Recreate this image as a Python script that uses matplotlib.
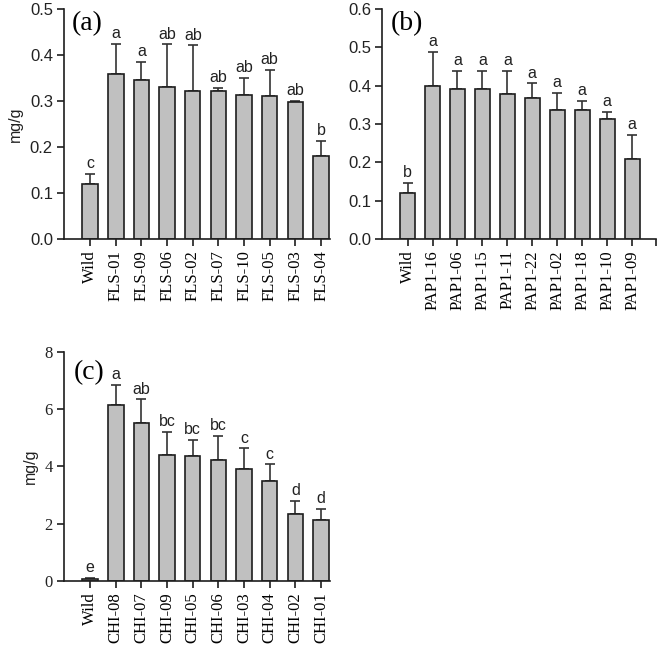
import numpy as np
import matplotlib
matplotlib.use('Agg')
import matplotlib.pyplot as plt

plt.rcParams['font.family'] = 'Liberation Serif'

# panel (a) FLS lines
fls_names = ['Wild', 'FLS-01', 'FLS-09', 'FLS-06', 'FLS-02', 'FLS-07', 'FLS-10', 'FLS-05', 'FLS-03', 'FLS-04']
fls_mean = [0.120, 0.359, 0.346, 0.330, 0.322, 0.321, 0.314, 0.311, 0.298, 0.180]
fls_err = [0.021, 0.066, 0.040, 0.093, 0.099, 0.007, 0.037, 0.056, 0.002, 0.033]
fls_letters = ['c', 'a', 'a', 'ab', 'ab', 'ab', 'ab', 'ab', 'ab', 'b']

# panel (b) PAP1 lines
pap_names = ['Wild', 'PAP1-16', 'PAP1-06', 'PAP1-15', 'PAP1-11', 'PAP1-22', 'PAP1-02', 'PAP1-18', 'PAP1-10', 'PAP1-09']
pap_mean = [0.120, 0.400, 0.392, 0.392, 0.378, 0.368, 0.338, 0.338, 0.314, 0.210]
pap_err = [0.027, 0.088, 0.047, 0.047, 0.061, 0.038, 0.044, 0.022, 0.018, 0.062]
pap_letters = ['b', 'a', 'a', 'a', 'a', 'a', 'a', 'a', 'a', 'a']

# panel (c) CHI lines
chi_names = ['Wild', 'CHI-08', 'CHI-07', 'CHI-09', 'CHI-05', 'CHI-06', 'CHI-03', 'CHI-04', 'CHI-02', 'CHI-01']
chi_mean = [0.08, 6.15, 5.50, 4.41, 4.37, 4.22, 3.90, 3.50, 2.34, 2.12]
chi_err = [0.04, 0.69, 0.84, 0.79, 0.55, 0.84, 0.73, 0.57, 0.47, 0.40]
chi_letters = ['e', 'a', 'ab', 'bc', 'bc', 'bc', 'c', 'c', 'd', 'd']


def panel(ax, names, mean, err, letters, tag, ymax, ystep, fmt, xmax, yfont,
          ylabel=True, end_tick=False):
    x = np.arange(len(names))
    ax.bar(x, mean, width=0.6, color='#c0c0c0', edgecolor='#1e1e1e', linewidth=1.2, zorder=2)
    ax.errorbar(x, mean, yerr=[np.zeros(len(err)), err], fmt='none', ecolor='#333333',
                elinewidth=1.2, capsize=3.3, capthick=1.2, zorder=1)
    for xi, m, e, s in zip(x, mean, err, letters):
        ax.annotate(s, (xi, m + e), xytext=(0, 2), textcoords='offset points',
                    ha='center', va='bottom', fontsize=11.5, family='Liberation Sans', color='#222222')
    ax.set_ylim(0, ymax)
    yt = np.arange(0, ymax + ystep / 2, ystep)
    ax.set_yticks(yt)
    ax.set_yticklabels([fmt.format(v) for v in yt], fontsize=12, family=yfont, color='#222222')
    ax.set_xlim(-1.02, xmax)
    ticks = list(x)
    labels = list(names)
    if end_tick:
        ticks.append(xmax)
        labels.append('')
    ax.set_xticks(ticks)
    ax.set_xticklabels(labels, rotation=90, fontsize=12)
    for sp in ['top', 'right']:
        ax.spines[sp].set_visible(False)
    for sp in ['left', 'bottom']:
        ax.spines[sp].set_linewidth(1.2)
        ax.spines[sp].set_color('#1e1e1e')
    ax.tick_params(axis='both', direction='out', length=5, width=1.2, color='#1e1e1e', pad=3)
    ax.text(0.03, 0.935, tag, transform=ax.transAxes, ha='left', va='center', fontsize=20)
    if ylabel:
        ax.set_ylabel('mg/g', fontsize=11.5, labelpad=5, family='Liberation Sans', color='#222222')


fig = plt.figure(figsize=(6.6, 6.48), dpi=100)
ax_a = fig.add_axes([0.097, 0.631, 0.403, 0.355])
ax_b = fig.add_axes([0.579, 0.631, 0.415, 0.355])
ax_c = fig.add_axes([0.097, 0.1034, 0.403, 0.3536])

panel(ax_a, fls_names, fls_mean, fls_err, fls_letters, '(a)', 0.5, 0.1, '{:.1f}', 9.35,
      'Liberation Sans')
panel(ax_b, pap_names, pap_mean, pap_err, pap_letters, '(b)', 0.6, 0.1, '{:.1f}', 9.96,
      'Liberation Sans', ylabel=False, end_tick=True)
panel(ax_c, chi_names, chi_mean, chi_err, chi_letters, '(c)', 8, 2, '{:.0f}', 9.35,
      'Liberation Serif')
ax_c.texts[-1].set_position((0.038, 0.91))

fig.savefig('out.png', dpi=100)
